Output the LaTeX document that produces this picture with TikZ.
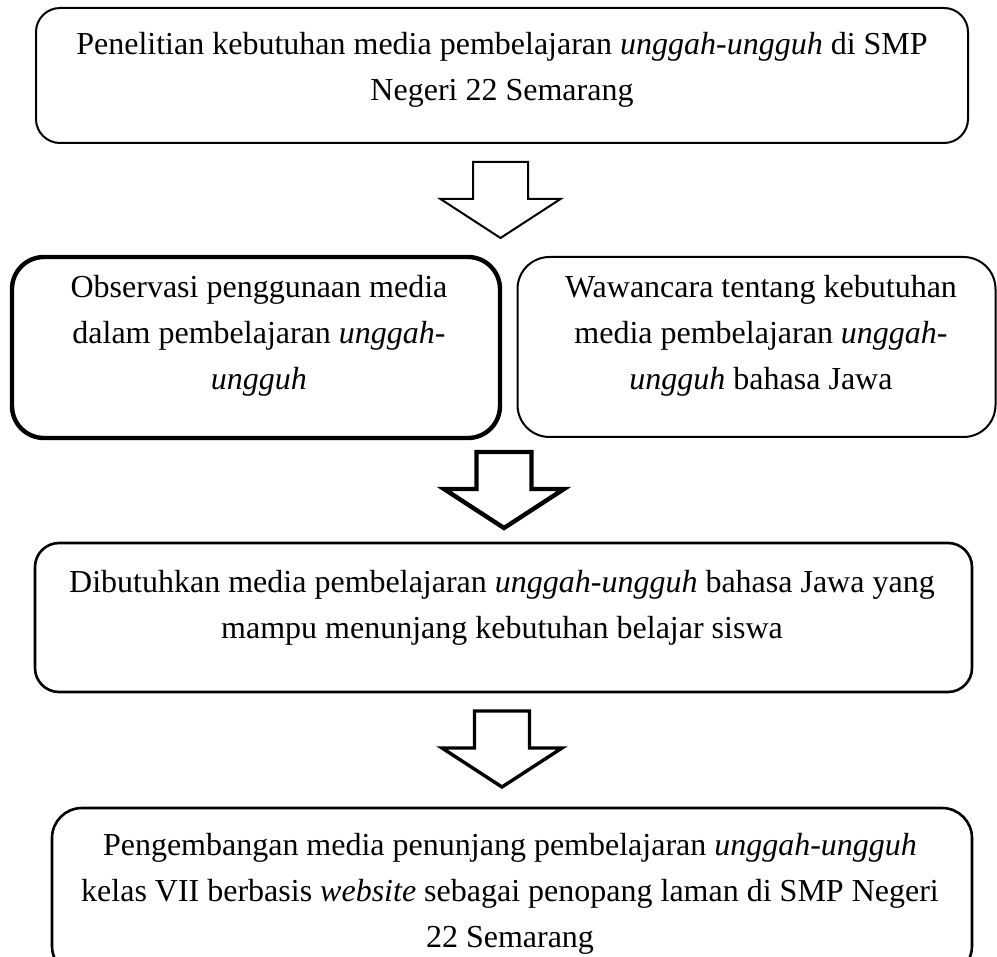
\documentclass[tikz,border=0pt]{standalone}
\usepackage{fontspec}
\setmainfont{Liberation Serif}

\begin{document}
\begin{tikzpicture}[
  x=0.5pt, y=-0.5pt,
  box/.style={draw=black, rounded corners=12pt, line width=1pt, inner sep=0pt},
  boldbox/.style={box, line width=2.2pt, rounded corners=16pt},
  txt/.style={align=center, inner sep=0pt, font=\fontsize{16}{23}\selectfont},
  darrow/.pic={\draw[pic actions] (-27.5,0) -- (27.5,0) -- (27.5,37) -- (60,37)
    -- (0,76) -- (-60,37) -- (-27.5,37) -- cycle;}
]
  \useasboundingbox (0,0) rectangle (997,957);

  % kotak atas
  \node[box, minimum width=466pt, minimum height=67.5pt] (kebutuhan) at (502,75.5) {};
  \node[txt] (tkebutuhan) at (502,70)
    {Penelitian kebutuhan media pembelajaran \textit{unggah-ungguh} di SMP\\
     Negeri 22 Semarang};

  % observasi dan wawancara
  \node[boldbox, minimum width=244pt, minimum height=90.5pt] (observasi) at (256,347.5) {};
  \node[txt] (tobservasi) at (259,336)
    {Observasi penggunaan media\\
     dalam pembelajaran \textit{unggah-}\\
     \textit{ungguh}};
  \node[box, rounded corners=16pt, minimum width=239pt, minimum height=90pt] (wawancara) at (756.5,347) {};
  \node[txt] (twawancara) at (761,336)
    {Wawancara tentang kebutuhan\\
     media pembelajaran \textit{unggah-}\\
     \textit{ungguh} bahasa Jawa};

  % hasil
  \node[box, line width=1.3pt, minimum width=468.5pt, minimum height=74.5pt] (hasil) at (503.5,617.5) {};
  \node[txt] (thasil) at (502,608)
    {Dibutuhkan media pembelajaran \textit{unggah-ungguh} bahasa Jawa yang\\
     mampu menunjang kebutuhan belajar siswa};

  % pengembangan
  \node[box, line width=1.3pt, rounded corners=15pt, minimum width=460pt, minimum height=84pt] (pengembangan) at (512,892) {};
  \node[txt] (tpengembangan) at (510,894)
    {Pengembangan media penunjang pembelajaran \textit{unggah-ungguh}\\
     kelas VII berbasis \textit{website} sebagai penopang laman di SMP Negeri\\
     22 Semarang};

  % panah
  \pic[line width=1pt] (panah1) at (500.5,162) {darrow};
  \pic[line width=2.2pt] (panah2) at (504,452) {darrow};
  \pic[line width=1.7pt] (panah3) at (502,711) {darrow};
\end{tikzpicture}
\end{document}
